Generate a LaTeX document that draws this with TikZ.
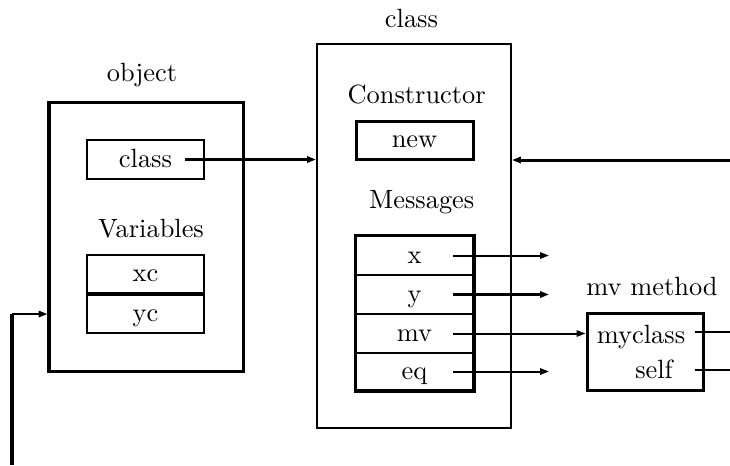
\documentclass[tikz,border=0pt]{standalone}
\usetikzlibrary{arrows.meta,fit,calc}
% one drawing unit
\newcommand\pxu{0.379pt}
\begin{document}
\begin{tikzpicture}[x=0.379pt,y=-0.379pt,
  thickline/.style={line width=1.14pt},
  thinline/.style={line width=0.76pt},
  box/.style 2 args={draw, inner sep=0pt, minimum width=#1*\pxu,
    minimum height=#2*\pxu, text height=7pt, text depth=1pt},
  lbl/.style={inner sep=0pt, anchor=base},
  tip/.style={-{Triangle[length=3.4pt,width=2.4pt]}}]
\useasboundingbox (0,0) rectangle (730,465);

% ---- object ----
\node[lbl] (objlbl) at (142,81) {object};
\node[box={194}{269}, thickline] (obj) at (146,236.5) {};
\node[box={117}{39}, thinline] (clsref) at (145.5,159.5) {class};
\node[lbl] (vars) at (151,237) {Variables};
\node[box={117}{38}, thinline] (xc) at (145.5,274) {xc};
\node[box={117}{38}, thinline] (yc) at (145.5,314) {yc};

% ---- class ----
\node[lbl] (clslbl) at (411.5,27) {class};
\node[box={194}{384}, thinline] (cls) at (414,236) {};
\node[lbl] (ctor) at (416.7,103) {Constructor};
\node[box={117}{38}, thickline] (new) at (414.5,140) {new};
\node[lbl] (msgs) at (421.7,208) {Messages};
\node[box={117}{39}, thinline] (xr) at (414.5,255.5) {x};
\node[box={117}{39}, thinline] (yr) at (414.5,294.5) {y};
\node[box={117}{39}, thinline] (mvr) at (414.5,333.5) {mv};
\node[box={117}{37}, thinline] (eqr) at (414.5,371.5) {eq};
\node[fit=(xr)(eqr), draw, thickline, inner sep=0pt] (msgbox) {};

% ---- mv method ----
\node[lbl] (mvlbl) at (652,295) {mv method};
\node[box={116}{77}, thickline] (mvm) at (645,351.5) {};
\node[lbl] (myc) at (641,343) {myclass};
\node[lbl] (slf) at (654,378) {self};

% ---- free ends ----
\coordinate (inR) at (730,160);
\coordinate (fbB) at (12,465);
\coordinate (fbC) at (12,314);
\coordinate (xend) at ($(xr.east)+(75,0)$);
\coordinate (yend) at ($(yr.east)+(75,0)$);
\coordinate (eqend) at ($(eqr.east)+(75,0)$);
\coordinate (out1) at (730,332);
\coordinate (out2) at (730,370);

% ---- connectors ----
\draw[thickline, tip] ($(clsref.east)+(-20,0)$) -- (cls.west |- clsref.east);
\draw[thickline, tip] (inR) -- (cls.east |- inR);
\draw[thickline] (fbB) -- (fbC);
\draw[thinline, tip] (fbC) -- (obj.west |- fbC);
\draw[thinline, tip] ($(xr.east)+(-21,0)$) -- (xend);
\draw[thickline, tip] ($(yr.east)+(-21,0)$) -- (yend);
\draw[thinline, tip] ($(mvr.east)+(-21,0)$) -- (mvm.west |- mvr.east);
\draw[thinline, tip] ($(eqr.east)+(-21,0)$) -- (eqend);
\draw[thinline] ($(mvm.east |- out1)+(-10,0)$) -- (out1);
\draw[thinline] ($(mvm.east |- out2)+(-10,0)$) -- (out2);
\end{tikzpicture}
\end{document}
